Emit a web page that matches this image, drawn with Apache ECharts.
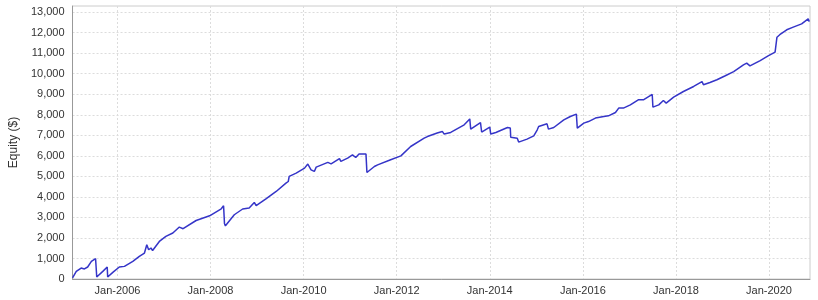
<!DOCTYPE html>
<html>
<head>
<meta charset="utf-8">
<script src="https://cdn.jsdelivr.net/npm/echarts@6/dist/echarts.min.js"></script>
<style>html,body{margin:0;padding:0;background:#fff}#c{width:818px;height:300px}</style>
</head>
<body>
<div id="c"></div>
<script>
// Decimal year of each equity reading
var years = [2005.035,2005.115,2005.22,2005.29,2005.36,2005.44,2005.53,2005.54,2005.555,2005.685,2005.78,2005.79,2005.90,
2006.04,2006.15,2006.33,2006.47,2006.58,2006.63,2006.67,2006.72,2006.755,2006.90,
2007.04,2007.19,2007.33,2007.41,2007.69,2007.98,
2008.23,2008.28,2008.30,2008.32,2008.51,2008.69,2008.83,2008.94,2008.98,
2009.19,2009.41,2009.62,2009.67,2009.69,2009.84,
2010.02,2010.09,2010.16,2010.23,2010.27,2010.52,2010.59,2010.77,2010.80,2010.945,
2011.05,2011.12,2011.19,2011.34,2011.36,2011.52,2011.59,2011.87,
2012.09,2012.30,2012.59,2012.66,2012.87,2012.98,
2013.02,2013.16,2013.45,2013.57,2013.59,2013.80,2013.825,
2014.00,2014.02,2014.13,2014.38,2014.44,2014.45,2014.59,2014.62,2014.80,2014.945,
2015.02,2015.05,2015.23,2015.26,2015.375,2015.59,2015.73,2015.86,2015.88,
2016.02,2016.12,2016.16,2016.27,2016.45,2016.55,2016.70,2016.77,2016.87,
2017.02,2017.19,2017.30,2017.49,2017.505,2017.63,2017.73,2017.79,2017.95,
2018.16,2018.38,2018.56,2018.59,2018.73,2018.88,
2019.06,2019.09,2019.24,2019.45,2019.52,2019.59,2019.81,2019.98,
2020.13,2020.16,2020.17,2020.23,2020.38,2020.52,2020.70,2020.84,2020.865];
// Equity ($)
var equity = [50,370,535,490,585,857,990,1000,100,370,585,100,320,
585,615,857,1100,1265,1670,1425,1510,1390,1830,
2075,2240,2530,2450,2850,3080,
3420,3570,2690,2590,3130,3410,3460,3730,3570,
3900,4265,4670,4750,5000,5160,
5400,5600,5320,5240,5450,5680,5610,5860,5730,5890,
6050,5920,6085,6085,5190,5480,5560,5810,
6000,6455,6860,6940,7110,7190,
7060,7140,7510,7800,7300,7620,7160,
7400,7060,7140,7380,7360,6910,6860,6670,6815,6975,
7270,7430,7560,7300,7380,7755,7915,8030,7350,
7595,7670,7595,7840,7915,7950,8110,8325,8325,
8485,8730,8730,8990,8375,8485,8695,8570,8860,
9135,9380,9620,9460,9570,9705,
9900,9835,10105,10430,10515,10380,10640,10870,
11050,11080,11780,11900,12140,12270,12430,12675,12540];
// Tick positions on the date axis (January of even years)
var xTicks = [2006,2008,2010,2012,2014,2016,2018,2020];
// Tick values on the equity axis
var yTicks = [0,1000,2000,3000,4000,5000,6000,7000,8000,9000,10000,11000,12000,13000];
var yMin = 0, yMax = 13300;
var xMin = 2005.035, xMax = 2020.88;

var pts = years.map(function(y,i){return [y, equity[i]];});
var chart = echarts.init(document.getElementById('c'), null, {renderer:'canvas'});
var font = 'Liberation Sans, Arial, sans-serif';
chart.setOption({
  animation:false,
  backgroundColor:'#fff',
  grid:{left:71,right:8,top:6,bottom:21,show:true,borderColor:'#cccccc',borderWidth:1,backgroundColor:'#fff'},
  xAxis:{type:'value',min:xMin,max:xMax,
    axisLine:{show:true,lineStyle:{color:'#999',width:1}},
    axisTick:{show:false,customValues:xTicks},
    axisLabel:{customValues:xTicks,formatter:function(v){return 'Jan-'+Math.round(v);},
      color:'#333',fontFamily:font,fontSize:11,margin:6},
    splitLine:{show:true,lineStyle:{color:'#dcdcdc',type:[2,2],width:1}}
  },
  yAxis:{type:'value',min:yMin,max:yMax,
    name:'Equity ($)',nameLocation:'middle',nameGap:45,nameRotate:90,
    nameTextStyle:{color:'#333',fontFamily:font,fontSize:12},
    axisLine:{show:true,lineStyle:{color:'#999',width:1}},
    axisTick:{show:false,customValues:yTicks},
    axisLabel:{customValues:yTicks,color:'#333',fontFamily:font,fontSize:11,margin:8,
      formatter:function(v){return v.toLocaleString('en-US');}},
    splitLine:{show:true,lineStyle:{color:'#dcdcdc',type:[2,2],width:1}}
  },
  series:[{type:'line',data:pts,showSymbol:false,symbol:'none',
    lineStyle:{color:'#3535c8',width:1.5},z:3}]
});
</script>
</body>
</html>
